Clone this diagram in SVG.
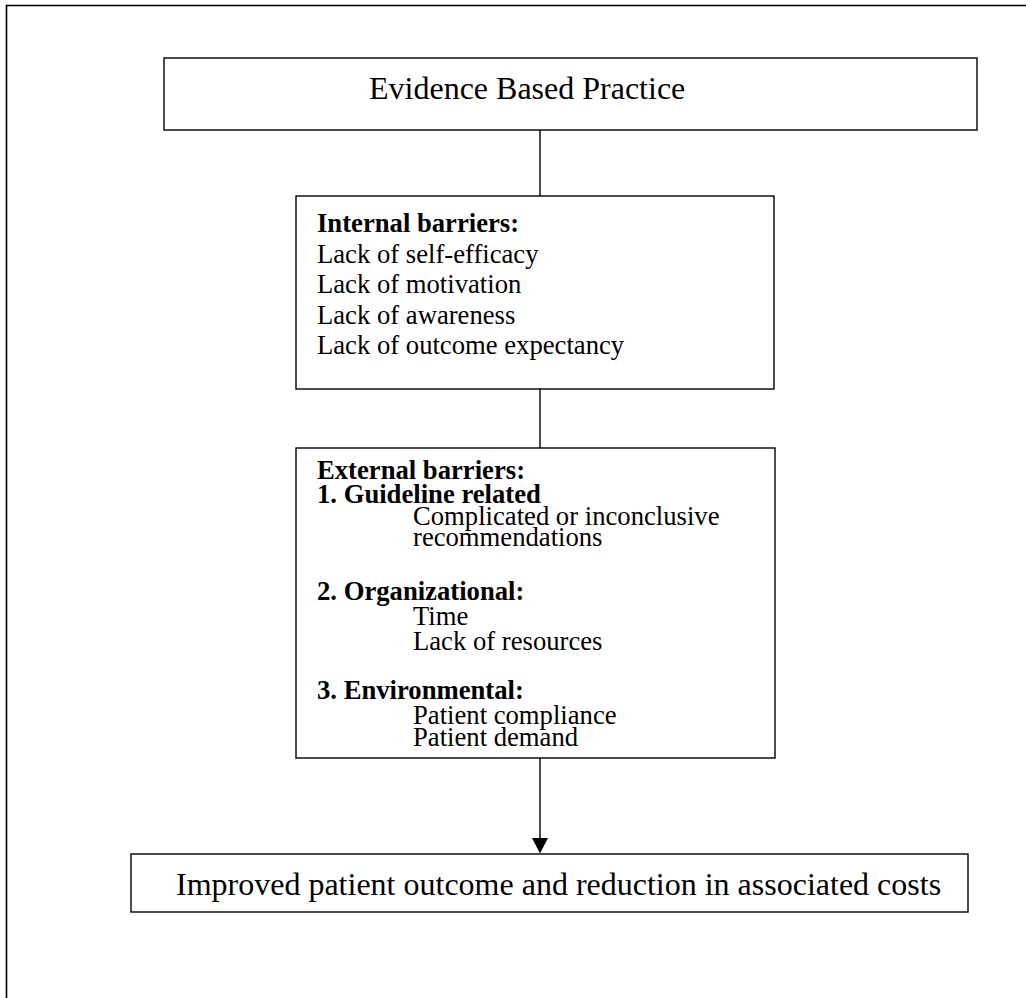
<svg xmlns="http://www.w3.org/2000/svg" width="1026" height="998" viewBox="0 0 1026 998">
<style>
.box{fill:#fff;stroke:#000;stroke-width:1.4}
.frame{fill:none;stroke:#000;stroke-width:1.6}
.t{font-family:"Liberation Serif","Times New Roman",serif;fill:#000}
.big{font-size:32px}
.mid{font-size:26.67px}
.b{font-weight:bold}
.conn{stroke:#000;stroke-width:1.4;fill:none}
</style>
<defs>
<clipPath id="extclip"><rect x="296" y="448" width="479" height="299"/></clipPath>
</defs>
<rect width="1026" height="998" fill="#fff"/>
<rect class="frame" x="6.5" y="5.5" width="1040" height="1010"/>
<g id="connectors">
<line class="conn" x1="540" y1="130" x2="540" y2="196"/>
<line class="conn" x1="540" y1="389" x2="540" y2="448"/>
<line class="conn" x1="540" y1="758" x2="540" y2="840"/>
<polygon points="532,838 548,838 540,853.5" fill="#000"/>
</g>
<g id="evidence">
<rect class="box" x="164" y="58" width="813" height="72"/>
<text class="t big" x="369" y="99">Evidence Based Practice</text>
</g>
<g id="internal">
<rect class="box" x="296" y="196" width="478" height="193"/>
<text class="t mid" x="317"><tspan class="b" x="317" y="232">Internal barriers:</tspan><tspan x="317" y="262.5">Lack of self-efficacy</tspan><tspan x="317" y="293">Lack of motivation</tspan><tspan x="317" y="323.5">Lack of awareness</tspan><tspan x="317" y="354">Lack of outcome expectancy</tspan></text>
</g>
<g id="external">
<rect class="box" x="296" y="448" width="479" height="310"/>
<text class="t mid" clip-path="url(#extclip)"><tspan class="b" x="317" y="479">External barriers:</tspan><tspan class="b" x="317" y="502.5">1. Guideline related</tspan><tspan x="413" y="524.5">Complicated or inconclusive</tspan><tspan x="413" y="545.5">recommendations</tspan><tspan class="b" x="317" y="600">2. Organizational:</tspan><tspan x="413" y="624.5">Time</tspan><tspan x="413" y="650">Lack of resources</tspan><tspan class="b" x="317" y="698.5">3. Environmental:</tspan><tspan x="413" y="723.5">Patient compliance</tspan><tspan x="413" y="746">Patient demand</tspan></text>
</g>
<g id="outcome">
<rect class="box" x="131" y="854" width="837" height="58"/>
<text class="t big" x="176" y="895">Improved patient outcome and reduction in associated costs</text>
</g>
</svg>
